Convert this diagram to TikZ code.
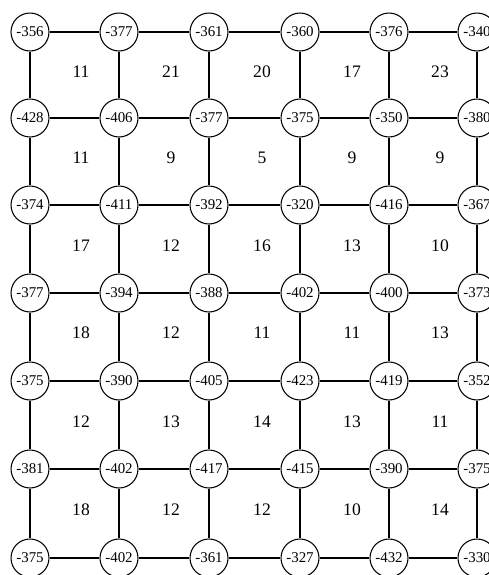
\documentclass[tikz,border=0pt]{standalone}
\usepackage{fontspec}
\setmainfont{Liberation Serif}
\usetikzlibrary{positioning}

\begin{document}
\begin{tikzpicture}[
  x=0.02cm, y=-0.02cm,
  vertex/.style={circle, draw, line width=0.6pt, fill=white, minimum size=0.76cm, inner sep=0pt, font=\fontsize{8.5}{10}\selectfont},
  cost/.style={inner sep=1pt, font=\fontsize{10}{12}\selectfont},
  edge/.style={line width=0.7pt}
]
\useasboundingbox (0,0) rectangle (489,575);
\clip (0,0) rectangle (489,575);
% row a
\node[vertex] (a1) at (30,32) {-356};
\node[vertex] (a2) at (119,32) {-377};
\node[vertex] (a3) at (209,32) {-361};
\node[vertex] (a4) at (300,32) {-360};
\node[vertex] (a5) at (389,32) {-376};
\node[vertex] (a6) at (477,32) {-340};
% row b
\node[vertex] (b1) at (30,118) {-428};
\node[vertex] (b2) at (119,118) {-406};
\node[vertex] (b3) at (209,118) {-377};
\node[vertex] (b4) at (300,118) {-375};
\node[vertex] (b5) at (389,118) {-350};
\node[vertex] (b6) at (477,118) {-380};
% row c
\node[vertex] (c1) at (30,205) {-374};
\node[vertex] (c2) at (119,205) {-411};
\node[vertex] (c3) at (209,205) {-392};
\node[vertex] (c4) at (300,205) {-320};
\node[vertex] (c5) at (389,205) {-416};
\node[vertex] (c6) at (477,205) {-367};
% row d
\node[vertex] (d1) at (30,293) {-377};
\node[vertex] (d2) at (119,293) {-394};
\node[vertex] (d3) at (209,293) {-388};
\node[vertex] (d4) at (300,293) {-402};
\node[vertex] (d5) at (389,293) {-400};
\node[vertex] (d6) at (477,293) {-373};
% row e
\node[vertex] (e1) at (30,381) {-375};
\node[vertex] (e2) at (119,381) {-390};
\node[vertex] (e3) at (209,381) {-405};
\node[vertex] (e4) at (300,381) {-423};
\node[vertex] (e5) at (389,381) {-419};
\node[vertex] (e6) at (477,381) {-352};
% row f
\node[vertex] (f1) at (30,469) {-381};
\node[vertex] (f2) at (119,469) {-402};
\node[vertex] (f3) at (209,469) {-417};
\node[vertex] (f4) at (300,469) {-415};
\node[vertex] (f5) at (389,469) {-390};
\node[vertex] (f6) at (477,469) {-375};
% row g
\node[vertex] (g1) at (30,558) {-375};
\node[vertex] (g2) at (119,558) {-402};
\node[vertex] (g3) at (209,558) {-361};
\node[vertex] (g4) at (300,558) {-327};
\node[vertex] (g5) at (389,558) {-432};
\node[vertex] (g6) at (477,558) {-330};
% horizontal links
\draw[edge] (a1) -- (a2) -- (a3) -- (a4) -- (a5) -- (a6);
\draw[edge] (b1) -- (b2) -- (b3) -- (b4) -- (b5) -- (b6);
\draw[edge] (c1) -- (c2) -- (c3) -- (c4) -- (c5) -- (c6);
\draw[edge] (d1) -- (d2) -- (d3) -- (d4) -- (d5) -- (d6);
\draw[edge] (e1) -- (e2) -- (e3) -- (e4) -- (e5) -- (e6);
\draw[edge] (f1) -- (f2) -- (f3) -- (f4) -- (f5) -- (f6);
\draw[edge] (g1) -- (g2) -- (g3) -- (g4) -- (g5) -- (g6);
% vertical links
\draw[edge] (a1) -- (b1) -- (c1) -- (d1) -- (e1) -- (f1) -- (g1);
\draw[edge] (a2) -- (b2) -- (c2) -- (d2) -- (e2) -- (f2) -- (g2);
\draw[edge] (a3) -- (b3) -- (c3) -- (d3) -- (e3) -- (f3) -- (g3);
\draw[edge] (a4) -- (b4) -- (c4) -- (d4) -- (e4) -- (f4) -- (g4);
\draw[edge] (a5) -- (b5) -- (c5) -- (d5) -- (e5) -- (f5) -- (g5);
\draw[edge] (a6) -- (b6) -- (c6) -- (d6) -- (e6) -- (f6) -- (g6);
% cell values
\node[cost] (ab1) at (81,72) {11};
\node[cost] (ab2) at (171,72) {21};
\node[cost] (ab3) at (262,72) {20};
\node[cost] (ab4) at (352,72) {17};
\node[cost] (ab5) at (440,72) {23};
\node[cost] (bc1) at (81,158) {11};
\node[cost] (bc2) at (171,158) {9};
\node[cost] (bc3) at (262,158) {5};
\node[cost] (bc4) at (352,158) {9};
\node[cost] (bc5) at (440,158) {9};
\node[cost] (cd1) at (81,246) {17};
\node[cost] (cd2) at (171,246) {12};
\node[cost] (cd3) at (262,246) {16};
\node[cost] (cd4) at (352,246) {13};
\node[cost] (cd5) at (440,246) {10};
\node[cost] (de1) at (81,333) {18};
\node[cost] (de2) at (171,333) {12};
\node[cost] (de3) at (262,333) {11};
\node[cost] (de4) at (352,333) {11};
\node[cost] (de5) at (440,333) {13};
\node[cost] (ef1) at (81,422) {12};
\node[cost] (ef2) at (171,422) {13};
\node[cost] (ef3) at (262,422) {14};
\node[cost] (ef4) at (352,422) {13};
\node[cost] (ef5) at (440,422) {11};
\node[cost] (fg1) at (81,510) {18};
\node[cost] (fg2) at (171,510) {12};
\node[cost] (fg3) at (262,510) {12};
\node[cost] (fg4) at (352,510) {10};
\node[cost] (fg5) at (440,510) {14};
\end{tikzpicture}
\end{document}
